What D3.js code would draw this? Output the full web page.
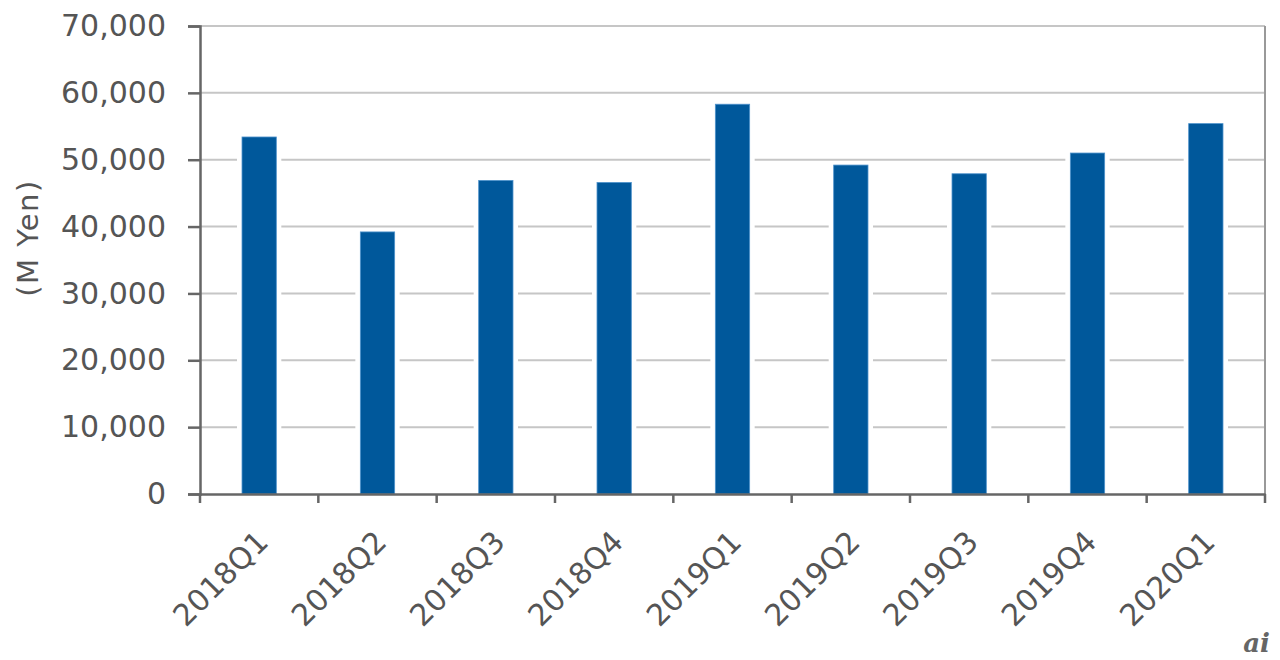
<!DOCTYPE html>
<html><head><meta charset="utf-8">
<script src="https://cdn.jsdelivr.net/npm/d3@7"></script>
<style>body{margin:0;background:#fff}svg{display:block}</style>
</head><body>
<svg id="c" width="1280" height="660"></svg>
<script>
const categories = ["2018Q1","2018Q2","2018Q3","2018Q4","2019Q1","2019Q2","2019Q3","2019Q4","2020Q1"];
const values = [53400, 39200, 46900, 46600, 58300, 49200, 47900, 51000, 55400];
const yTicks = [0,10000,20000,30000,40000,50000,60000,70000];

const svg = d3.select("#c");
const L = 200, R = 1265, T = 26, B = 494;
const x = d3.scaleBand().domain(categories).range([L, R]).paddingInner(0.71).paddingOuter(0.355);
const xb = d3.scaleBand().domain(categories).range([L, R]);
const y = d3.scaleLinear().domain([0, 70000]).range([B, T]);
const fmt = d3.format(",");
const font = "DejaVu Sans, Verdana, sans-serif";
const txt = "#555";

// gridlines
svg.append("g").selectAll("line").data(yTicks.filter(d=>d>0)).join("line")
  .attr("x1", L).attr("x2", R).attr("y1", d=>y(d)).attr("y2", d=>y(d))
  .attr("stroke", "#c6c6c6").attr("stroke-width", 2);
// right border
svg.append("line").attr("x1", R).attr("x2", R).attr("y1", T).attr("y2", B)
  .attr("stroke", "#999").attr("stroke-width", 2);

// white halo behind bars
svg.append("g").selectAll("rect").data(values).join("rect")
  .attr("x", (d,i)=>x(categories[i]) - 5).attr("width", x.bandwidth() + 10)
  .attr("y", d=>y(d) - 3).attr("height", d=>B - y(d) + 3)
  .attr("fill", "#fff");
// bars
svg.append("g").selectAll("rect").data(values).join("rect")
  .attr("x", (d,i)=>x(categories[i])).attr("width", x.bandwidth())
  .attr("y", d=>y(d)).attr("height", d=>B - y(d))
  .attr("fill", "#00589b").attr("stroke", "#4f93cc").attr("stroke-width", 0.8);

// y axis
const ya = svg.append("g").attr("transform", `translate(${L},0)`)
  .call(d3.axisLeft(y).tickValues(yTicks).tickFormat(fmt).tickSize(12).tickPadding(22));
ya.select(".domain").attr("stroke", "#666").attr("stroke-width", 2.5);
ya.selectAll(".tick line").attr("stroke", "#666").attr("stroke-width", 2.5);
ya.selectAll("text").attr("fill", txt).style("font-family", font).style("font-size", "30px");

// x axis
const xa = svg.append("g").attr("transform", `translate(0,${B})`)
  .call(d3.axisBottom(xb).tickSize(0).tickFormat(""));
xa.select(".domain").attr("stroke", "#666").attr("stroke-width", 2.5);
xa.append("g").selectAll("line").data(d3.range(categories.length + 1)).join("line")
  .attr("x1", i=>L + i*xb.step()).attr("x2", i=>L + i*xb.step())
  .attr("y1", 0).attr("y2", 9).attr("stroke", "#666").attr("stroke-width", 2.5);
svg.append("g").selectAll("text").data(categories).join("text")
  .attr("transform", d=>`translate(${xb(d) + xb.bandwidth()/2 - 4},${B + 35}) rotate(-45)`)
  .attr("text-anchor", "end").attr("dy", "0.7em")
  .attr("fill", txt).style("font-family", font).style("font-size", "30px")
  .text(d=>d);

// y label
svg.append("text").attr("transform", `translate(38,238) rotate(-90)`)
  .attr("text-anchor", "middle").attr("fill", txt)
  .style("font-family", font).style("font-size", "29px").style("letter-spacing", "1.5px").text("(M Yen)");

// watermark
svg.append("text").attr("x", 1270).attr("y", 652).attr("text-anchor", "end")
  .attr("fill", "#666").style("font-family", "DejaVu Serif, serif").style("font-style", "italic")
  .style("font-weight", "bold").style("font-size", "26px").text("ai");
</script>
</body></html>
